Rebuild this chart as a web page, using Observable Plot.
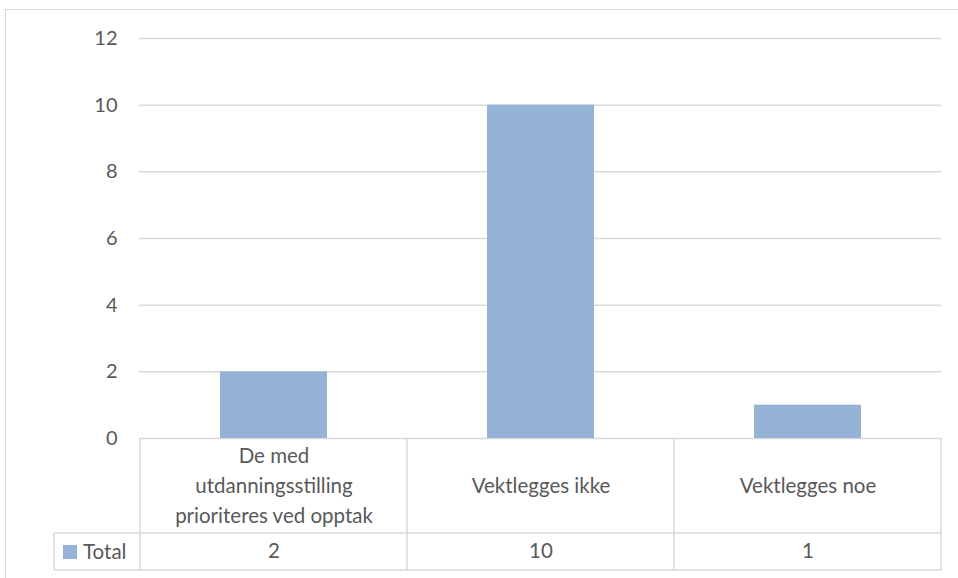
<!DOCTYPE html>
<html><head><meta charset="utf-8">
<script src="https://cdn.jsdelivr.net/npm/d3@7"></script>
<script src="https://cdn.jsdelivr.net/npm/@observablehq/plot@0.6"></script>
<style>
body{margin:0;background:#fff;}
#wrap{position:relative;width:958px;height:578px;overflow:hidden;background:#fff;}
#border{position:absolute;left:5px;top:9px;width:1000px;height:1000px;border:1px solid #d9d9d9;box-sizing:border-box;}
#chart{position:absolute;left:0;top:0;}
</style></head><body>
<div id="wrap"><div id="border"></div><div id="chart"></div></div>
<script>
const categories = ["De med utdanningsstilling prioriteres ved opptak", "Vektlegges ikke", "Vektlegges noe"];
const categoryLabels = ["De med\nutdanningsstilling\nprioriteres ved opptak", "Vektlegges ikke", "Vektlegges noe"];
const values = [2, 10, 1];
const seriesName = "Total";
const yTicks = [0, 2, 4, 6, 8, 10, 12];

const data = categories.map((c, i) => ({category: c, label: categoryLabels[i], value: values[i]}));

const font = "Lato, 'Open Sans', sans-serif";
const textColor = "#595959";
const lineColor = "#d9d9d9";
const barColor = "#95b3d7";
const fs = 20.5;

function dataTable(index, scales, channels, dims) {
  const x = scales.x;
  const bw = x.bandwidth();
  const top = dims.height - dims.marginBottom;
  const split = top + 95;
  const bottom = top + 132;
  const x1 = dims.width - dims.marginRight;
  const legendLeft = 54;
  const g = d3.create("svg:g");
  const lines = g.append("g").attr("stroke", lineColor).attr("stroke-width", 1.5);
  lines.append("line").attr("x1", legendLeft).attr("x2", x1).attr("y1", split).attr("y2", split);
  lines.append("line").attr("x1", legendLeft).attr("x2", x1).attr("y1", bottom).attr("y2", bottom);
  const edges = categories.map(c => x(c)).concat([x(categories[categories.length - 1]) + bw]);
  for (const e of edges) {
    lines.append("line").attr("x1", e).attr("x2", e).attr("y1", top).attr("y2", bottom);
  }
  lines.append("line").attr("x1", legendLeft).attr("x2", legendLeft).attr("y1", split).attr("y2", bottom);
  g.append("rect").attr("x", 63).attr("y", 545).attr("width", 14).attr("height", 14).attr("fill", barColor);
  g.append("text").attr("x", 83).attr("y", (split + bottom) / 2).attr("dy", "0.35em")
    .attr("text-anchor", "start")
    .attr("fill", textColor).attr("font-family", font).attr("font-size", fs).text(seriesName);
  return g.node();
}

const chart = Plot.plot({
  width: 958,
  height: 578,
  marginTop: 38,
  marginBottom: 140,
  marginLeft: 139,
  marginRight: 17,
  style: {fontFamily: font, fontSize: fs + "px", color: textColor, background: "transparent"},
  x: {domain: categories, padding: 0, axis: null},
  y: {domain: [0, 12], ticks: yTicks},
  marks: [
    Plot.gridY(yTicks, {stroke: lineColor, strokeOpacity: 1, strokeWidth: 1.5}),
    Plot.axisY(yTicks, {tickSize: 0, tickPadding: 22, label: null, fill: textColor, fontSize: 20}),
    Plot.barY(data, {x: "category", y: "value", fill: barColor, insetLeft: 80, insetRight: 80}),
    dataTable,
    Plot.text(data, {x: "category", text: "label", frameAnchor: "bottom", dy: 45, lineAnchor: "middle", lineHeight: 1.45, fill: textColor, fontSize: fs}),
    Plot.text(data, {x: "category", text: d => String(d.value), frameAnchor: "bottom", dy: 113, lineAnchor: "middle", fill: textColor, fontSize: fs})
  ]
});
document.getElementById("chart").appendChild(chart);
</script>
</body></html>
